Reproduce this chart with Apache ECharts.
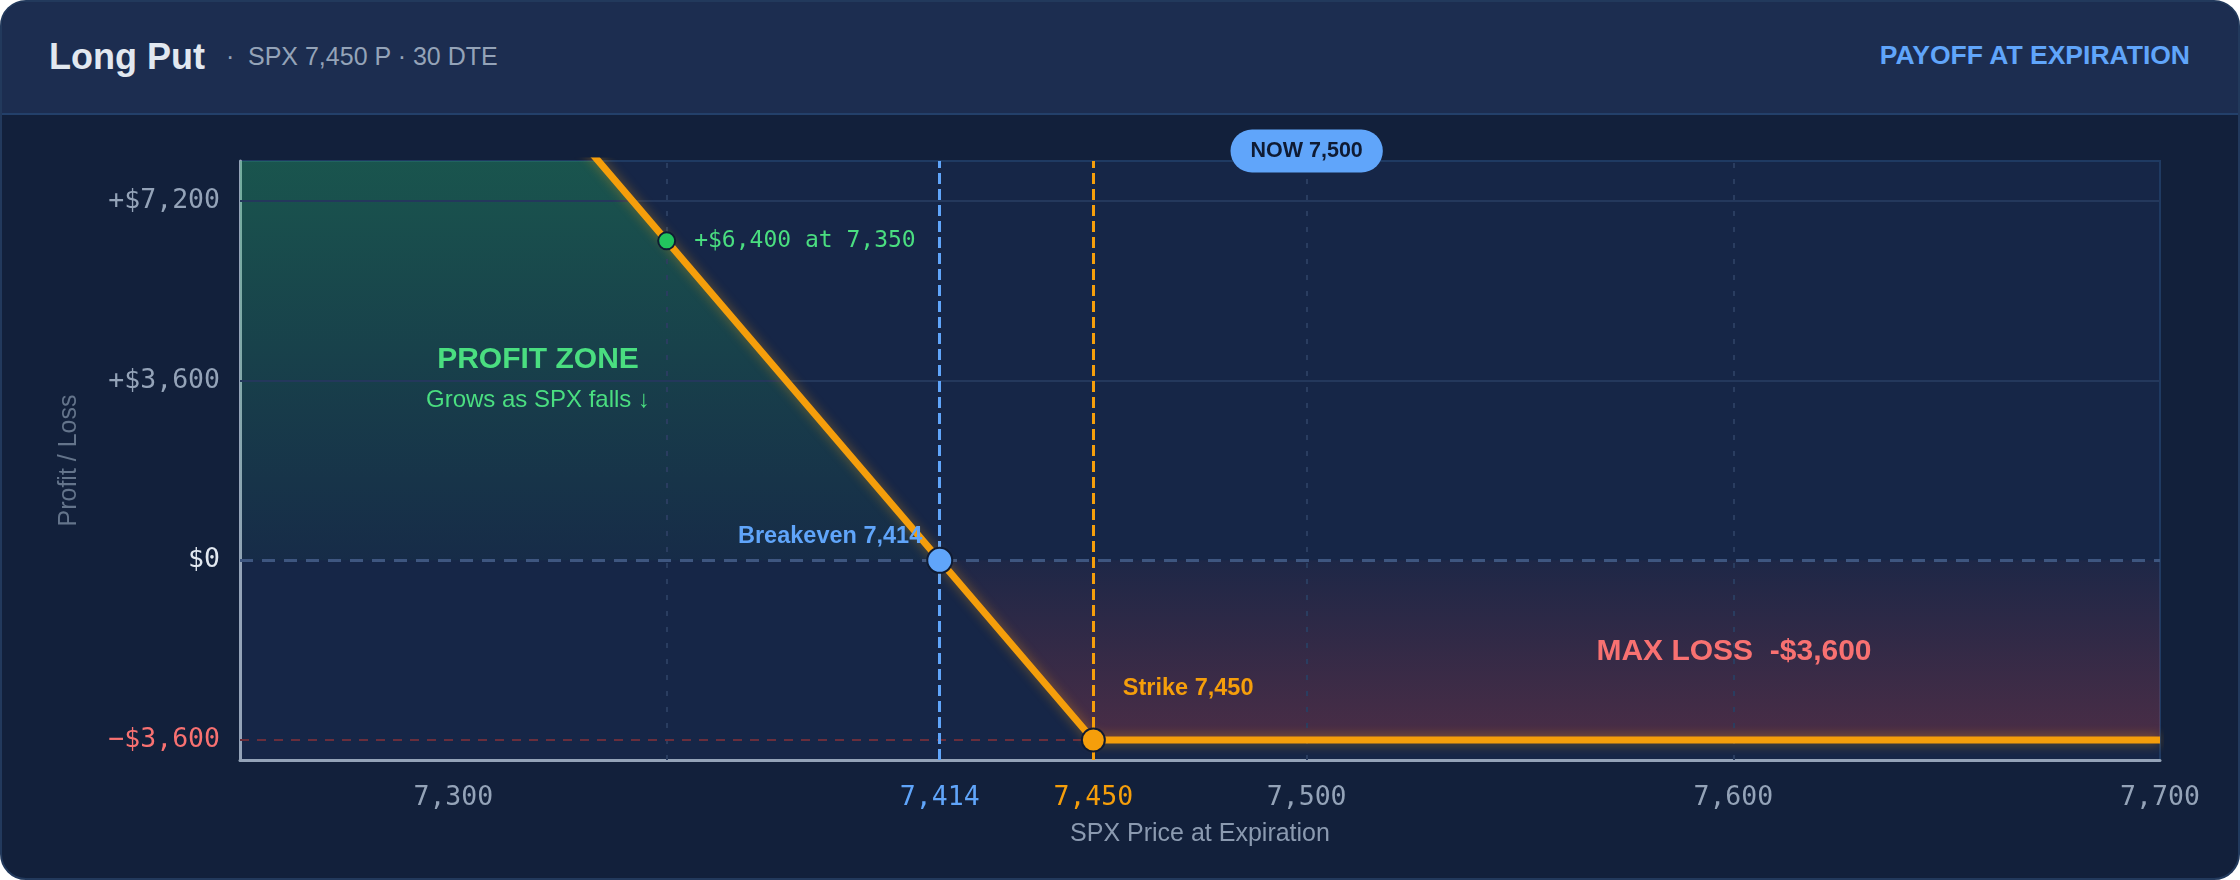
<!DOCTYPE html>
<html>
<head>
<meta charset="utf-8">
<title>Long Put payoff</title>
<script src="https://cdn.jsdelivr.net/npm/echarts@6/dist/echarts.min.js"></script>
<style>
  html, body { margin: 0; padding: 0; background: #ffffff; }
  .card {
    position: absolute; left: 0; top: 0; width: 2240px; height: 880px;
    box-sizing: border-box; border: 2px solid #22395c; border-radius: 26px;
    overflow: hidden; background: #12203b;
  }
  .head {
    position: absolute; left: 0; top: 0; right: 0; height: 111px;
    background: #1c2d50; border-bottom: 2px solid #23406a;
    font-family: "Liberation Sans", Arial, sans-serif;
  }
  .title { position: absolute; left: 47px; top: 34px; font-size: 36px; font-weight: bold; color: #e2e8f0; }
  .dot { position: absolute; left: 224px; top: 40px; font-size: 25px; color: #94a3b8; }
  .sub { position: absolute; left: 246px; top: 40px; font-size: 25px; color: #94a3b8; }
  .tag { position: absolute; right: 48px; top: 38px; font-size: 26.5px; font-weight: bold; color: #60a5fa; }
  #chart { position: absolute; left: 0; top: 0; width: 2240px; height: 880px; }
</style>
</head>
<body>
<div class="card">
  <div class="head">
    <div class="title">Long Put</div>
    <div class="dot">·</div>
    <div class="sub">SPX 7,450 P · 30 DTE</div>
    <div class="tag">PAYOFF AT EXPIRATION</div>
  </div>
</div>
<div id="chart"></div>
<script>
// axis ranges and ticks
const priceMin = 7250
const priceMax = 7700
const pnlMin = -4000
const pnlMax = 8000
const priceTicks = [7300, 7414, 7450, 7500, 7600, 7700]
const pnlTicks = [-3600, 0, 3600, 7200]
const priceGrid = [7350, 7500, 7600]
const pnlGrid = [3600, 7200]

// payoff of the put (price, P/L in $)
const payoffLine = [[7250, 16400], [7450, -3600], [7700, -3600]]
const profitArea = [[7250, 16400], [7414, 0]]
const lossArea = [[7414, 0], [7450, -3600], [7700, -3600]]

const strike = 7450
const breakeven = 7414
const spot = 7500
const maxLoss = -3600
const samplePoint = [7350, 6400]

const MONO = '"DejaVu Sans Mono", monospace'
const SANS = '"Liberation Sans", Arial, sans-serif'

function fmtNum(v) {
  return Math.abs(v).toLocaleString('en-US')
}
function fmtMoney(v) {
  if (v === 0) return '$0'
  return (v > 0 ? '+$' : '\u2212$') + fmtNum(v)
}

const chart = echarts.init(document.getElementById('chart'))

// top of the green fill sits where the clipped area meets the grid top
const profitTop = profitArea[0][1]
const profitOff = (profitTop - pnlMax) / profitTop

chart.setOption({
  animation: false,
  backgroundColor: 'transparent',
  grid: {
    left: 240, right: 80, top: 161, bottom: 120,
    show: true,
    backgroundColor: '#162647',
    borderColor: '#1f3a62',
    borderWidth: 2
  },
  xAxis: {
    type: 'value',
    min: priceMin,
    max: priceMax,
    name: 'SPX Price at Expiration',
    nameLocation: 'middle',
    nameGap: 62,
    nameTextStyle: { color: '#8b9ab0', fontSize: 25, fontFamily: SANS },
    axisLine: { show: true, onZero: false, lineStyle: { color: '#94a3b8', width: 3 } },
    axisTick: { show: false },
    splitLine: { show: false },
    axisLabel: {
      customValues: priceTicks,
      margin: 25,
      fontFamily: MONO,
      fontSize: 26.5,
      color: '#94a3b8',
      formatter: function (v) {
        if (v === breakeven) return '{be|' + fmtNum(v) + '}'
        if (v === strike) return '{st|' + fmtNum(v) + '}'
        return fmtNum(v)
      },
      rich: {
        be: { color: '#60a5fa', fontFamily: MONO, fontSize: 26.5 },
        st: { color: '#f59e0b', fontFamily: MONO, fontSize: 26.5 }
      }
    }
  },
  yAxis: {
    type: 'value',
    min: pnlMin,
    max: pnlMax,
    name: 'Profit / Loss',
    nameLocation: 'middle',
    nameGap: 158,
    nameTextStyle: { color: '#64748b', fontSize: 25, fontFamily: SANS },
    axisLine: { show: true, onZero: false, lineStyle: { color: '#94a3b8', width: 3 } },
    axisTick: { show: false },
    splitLine: { show: false },
    axisLabel: {
      customValues: pnlTicks,
      margin: 20,
      fontFamily: MONO,
      fontSize: 26.5,
      color: '#94a3b8',
      formatter: function (v) {
        if (v === 0) return '{zero|' + fmtMoney(v) + '}'
        if (v < 0) return '{neg|' + fmtMoney(v) + '}'
        return fmtMoney(v)
      },
      rich: {
        zero: { color: '#e2e8f0', fontFamily: MONO, fontSize: 26.5 },
        neg: { color: '#f87171', fontFamily: MONO, fontSize: 26.5 }
      }
    }
  },
  series: [
    {
      name: 'profit',
      type: 'line',
      data: profitArea,
      symbol: 'none',
      silent: true,
      z: 1,
      lineStyle: { width: 0 },
      areaStyle: {
        origin: 0,
        color: new echarts.graphic.LinearGradient(0, 0, 0, 1, [
          { offset: 0, color: 'rgba(34,197,94,0.42)' },
          { offset: profitOff, color: 'rgba(34,197,94,0.42)' },
          { offset: 1, color: 'rgba(34,197,94,0.05)' }
        ])
      }
    },
    {
      name: 'loss',
      type: 'line',
      data: lossArea,
      symbol: 'none',
      silent: true,
      z: 1,
      lineStyle: { width: 0 },
      areaStyle: {
        origin: 0,
        color: new echarts.graphic.LinearGradient(0, 0, 0, 1, [
          { offset: 0, color: 'rgba(239,68,68,0.05)' },
          { offset: 1, color: 'rgba(239,68,68,0.34)' }
        ])
      }
    },
    {
      name: 'guides',
      type: 'line',
      data: [],
      z: 3,
      markLine: {
        silent: true,
        symbol: ['none', 'none'],
        label: { show: false },
        data: [].concat(
          pnlGrid.map(v => ({ yAxis: v, lineStyle: { color: '#24385c', width: 2, type: 'solid' } })),
          priceGrid.map(v => ({ xAxis: v, lineStyle: { color: '#2a3d60', width: 2, type: [5, 11] } })),
          [
            { yAxis: 0, lineStyle: { color: '#3e5680', width: 3, type: [13, 9] } },
            [
              { coord: [priceMin, maxLoss], lineStyle: { color: '#6a2e3c', width: 2, type: [9, 8] } },
              { coord: [strike, maxLoss] }
            ],
            { xAxis: breakeven, lineStyle: { color: '#60a5fa', width: 3, type: [11, 5] } },
            { xAxis: strike, lineStyle: { color: '#f59e0b', width: 3, type: [11, 5] } }
          ]
        )
      }
    },
    {
      name: 'payoff',
      type: 'line',
      data: payoffLine,
      symbol: 'none',
      z: 5,
      lineStyle: {
        color: '#f59e0b',
        width: 7,
        shadowBlur: 12,
        shadowColor: 'rgba(245,158,11,0.45)'
      }
    },
    {
      name: 'points',
      type: 'scatter',
      z: 6,
      itemStyle: { opacity: 1 },
      data: [
        {
          value: samplePoint,
          symbolSize: 17,
          itemStyle: { color: '#22c55e', borderColor: '#0f1b33', borderWidth: 2, opacity: 1 },
          label: {
            show: true, position: 'right', distance: 18,
            formatter: fmtMoney(samplePoint[1]) + ' at ' + fmtNum(samplePoint[0]),
            color: '#4ade80', fontFamily: MONO, fontSize: 23
          }
        },
        {
          value: [breakeven, 0],
          symbolSize: 25,
          itemStyle: { color: '#60a5fa', borderColor: '#0f1b33', borderWidth: 2, opacity: 1 },
          label: {
            show: true, position: 'left', distance: 4, offset: [0, -24],
            formatter: 'Breakeven ' + fmtNum(breakeven),
            color: '#60a5fa', fontFamily: SANS, fontSize: 23.5, fontWeight: 'bold'
          }
        },
        {
          value: [strike, maxLoss],
          symbolSize: 23,
          itemStyle: { color: '#f59e0b', borderColor: '#0f1b33', borderWidth: 2, opacity: 1 },
          label: {
            show: true, position: 'right', distance: 17, offset: [0, -52],
            formatter: 'Strike ' + fmtNum(strike),
            color: '#f59e0b', fontFamily: SANS, fontSize: 23.5, fontWeight: 'bold'
          }
        }
      ]
    },
    {
      name: 'now',
      type: 'scatter',
      z: 7,
      clip: false,
      data: [{
        value: [spot, pnlMax],
        symbolSize: 1,
        itemStyle: { color: 'rgba(0,0,0,0)', opacity: 1 },
        label: {
          show: true, position: 'inside', offset: [0, -10],
          formatter: 'NOW ' + fmtNum(spot),
          backgroundColor: '#60a5fa',
          borderRadius: 22,
          padding: [11, 20, 10, 20],
          color: '#0f1b33', fontFamily: SANS, fontSize: 21.5, fontWeight: 'bold'
        }
      }]
    }
  ],
  graphic: [
    {
      type: 'text', x: 538, y: 360, z: 10,
      style: { text: 'PROFIT ZONE', fill: '#4ade80', fontFamily: SANS, fontSize: 30, fontWeight: 'bold', align: 'center', verticalAlign: 'middle' }
    },
    {
      type: 'text', x: 538, y: 400, z: 10,
      style: { text: 'Grows as SPX falls \u2193', fill: '#4ade80', fontFamily: SANS, fontSize: 24, align: 'center', verticalAlign: 'middle' }
    },
    {
      type: 'text', x: 1734, y: 652, z: 10,
      style: { text: 'MAX LOSS  -$3,600', fill: '#f87171', fontFamily: SANS, fontSize: 30, fontWeight: 'bold', align: 'center', verticalAlign: 'middle' }
    }
  ]
})
</script>
</body>
</html>
